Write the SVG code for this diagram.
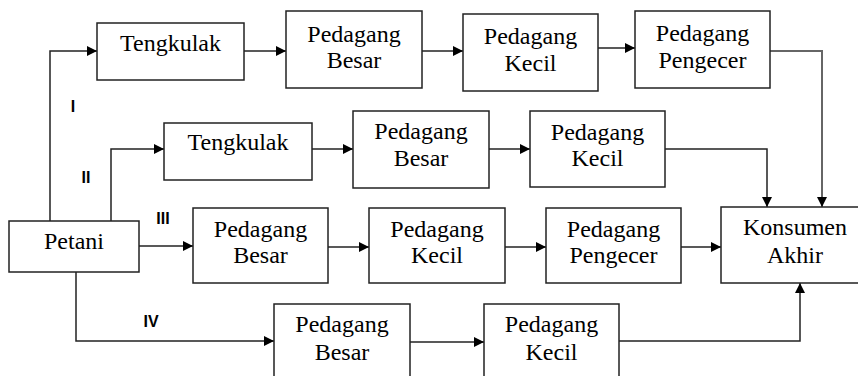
<svg xmlns="http://www.w3.org/2000/svg" width="858" height="376" viewBox="0 0 858 376">
<style>
.box{fill:#fff;stroke:#222;stroke-width:1.5}
.t{font-family:'Liberation Serif','Times New Roman',serif;font-size:24px;fill:#000;text-anchor:middle}
.n{font-family:'Liberation Sans',Arial,sans-serif;font-size:16px;font-weight:bold;fill:#000;text-anchor:middle}
.c{fill:none;stroke:#222;stroke-width:1.5}
.g{fill:none;stroke:#666;stroke-width:2}
</style>
<defs>
<marker id="ah" markerWidth="10" markerHeight="10" viewBox="0 0 10 10" refX="10" refY="5" orient="auto" markerUnits="userSpaceOnUse">
<path d="M0,0 L10,5 L0,10 Z" fill="#000"/>
</marker>
</defs>
<rect width="858" height="376" fill="#fff"/>
<g id="connectors">
<path class="c" d="M50,221 V51 H97" marker-end="url(#ah)"/>
<path class="c" d="M244,51 H286" marker-end="url(#ah)"/>
<path class="c" d="M422,51 H463" marker-end="url(#ah)"/>
<path class="c" d="M598,48 H635" marker-end="url(#ah)"/>
<path class="g" d="M770,51 H822 V207" marker-end="url(#ah)"/>
<path class="c" d="M111,221 V149 H164" marker-end="url(#ah)"/>
<path class="c" d="M312,149 H353" marker-end="url(#ah)"/>
<path class="c" d="M489,149 H530" marker-end="url(#ah)"/>
<path class="c" d="M665,149 H767 V207" marker-end="url(#ah)"/>
<path class="c" d="M139,246 H193" marker-end="url(#ah)"/>
<path class="c" d="M328,247 H369" marker-end="url(#ah)"/>
<path class="c" d="M505,247 H546" marker-end="url(#ah)"/>
<path class="c" d="M681,247 H721" marker-end="url(#ah)"/>
<path class="c" d="M76,272 V341 H274" marker-end="url(#ah)"/>
<path class="c" d="M410,342 H484" marker-end="url(#ah)"/>
<path class="c" d="M619,341 H800 V283" marker-end="url(#ah)"/>
</g>
<g id="labels">
<text class="n" x="73" y="112">I</text>
<text class="n" x="86" y="183">II</text>
<text class="n" x="163" y="224">III</text>
<text class="n" x="151" y="327">IV</text>
</g>
<g id="petani"><rect class="box" x="9" y="221" width="130" height="51"/><text class="t" x="74" y="249">Petani</text></g>
<g id="tengkulak1"><rect class="box" x="97" y="23" width="147" height="57"/><text class="t" x="170.5" y="51">Tengkulak</text></g>
<g id="besar1"><rect class="box" x="286" y="11" width="136" height="77"/><text class="t" x="354" y="42">Pedagang</text><text class="t" x="354" y="68">Besar</text></g>
<g id="kecil1"><rect class="box" x="463" y="14" width="135" height="77"/><text class="t" x="530.5" y="44">Pedagang</text><text class="t" x="530.5" y="71">Kecil</text></g>
<g id="pengecer1"><rect class="box" x="635" y="11" width="135" height="77"/><text class="t" x="702.5" y="41">Pedagang</text><text class="t" x="702.5" y="68">Pengecer</text></g>
<g id="tengkulak2"><rect class="box" x="164" y="123" width="148" height="57"/><text class="t" x="238" y="150">Tengkulak</text></g>
<g id="besar2"><rect class="box" x="353" y="111" width="136" height="77"/><text class="t" x="421" y="139">Pedagang</text><text class="t" x="421" y="166">Besar</text></g>
<g id="kecil2"><rect class="box" x="530" y="111" width="135" height="76"/><text class="t" x="597.5" y="140">Pedagang</text><text class="t" x="597.5" y="166">Kecil</text></g>
<g id="besar3"><rect class="box" x="193" y="208" width="135" height="75"/><text class="t" x="260.5" y="237">Pedagang</text><text class="t" x="260.5" y="263">Besar</text></g>
<g id="kecil3"><rect class="box" x="369" y="208" width="136" height="75"/><text class="t" x="437" y="237">Pedagang</text><text class="t" x="437" y="263">Kecil</text></g>
<g id="pengecer3"><rect class="box" x="546" y="208" width="135" height="75"/><text class="t" x="613.5" y="237">Pedagang</text><text class="t" x="613.5" y="263">Pengecer</text></g>
<g id="konsumen"><rect class="box" x="721" y="207" width="148" height="76"/><text class="t" x="795" y="235">Konsumen</text><text class="t" x="795" y="263">Akhir</text></g>
<g id="besar4"><rect class="box" x="274" y="304" width="136" height="80"/><text class="t" x="342" y="332">Pedagang</text><text class="t" x="342" y="360">Besar</text></g>
<g id="kecil4"><rect class="box" x="484" y="304" width="135" height="80"/><text class="t" x="551.5" y="332">Pedagang</text><text class="t" x="551.5" y="360">Kecil</text></g>
</svg>
